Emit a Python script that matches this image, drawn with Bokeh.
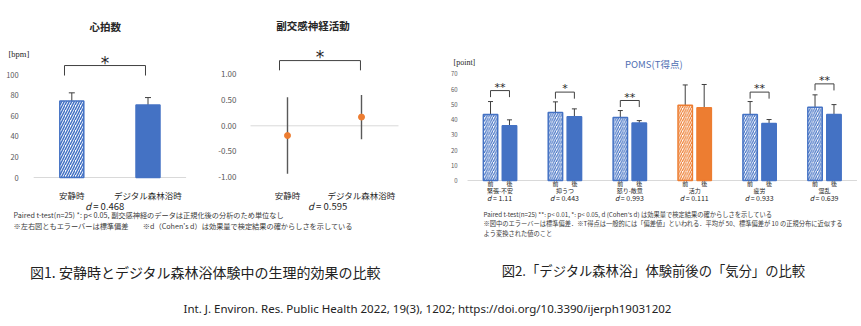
from bokeh.plotting import figure
from bokeh.models import (Range1d, FixedTicker, NumeralTickFormatter, Whisker, TeeHead,
                          ColumnDataSource, Label)
from bokeh.layouts import row, column
from bokeh.embed import file_html
from bokeh.resources import INLINE
from bokeh.core.properties import value

# ---------------- data ----------------
hr_labels = ["安静時", "デジタル森林浴時"]
hr_mean = [74.2, 70.3]
hr_sd = [8.0, 7.3]
hr_d = "0.468"
hr_ticks = [0, 20, 40, 60, 80, 100]
hr_bracket = 108.7          # bracket height (bpm)

ps_labels = ["安静時", "デジタル森林浴時"]
ps_mean = [-0.19, 0.17]
ps_sd = [0.745, 0.43]
ps_d = "0.595"
ps_ticks = [-1.0, -0.5, 0.0, 0.5, 1.0]
ps_bracket = 1.27

poms_cats = ["緊張-不安", "抑うつ", "怒り-敵意", "活力", "疲労", "混乱"]
poms_d = ["1.11", "0.443", "0.993", "0.111", "0.933", "0.639"]
poms_pre = [43.3, 44.6, 41.3, 49.4, 43.3, 48.0]
poms_pre_sd = [8.5, 7.0, 4.6, 13.3, 8.5, 8.2]
poms_post = [36.0, 41.8, 37.8, 47.7, 37.4, 43.3]
poms_post_sd = [3.8, 5.2, 1.5, 15.3, 2.6, 6.5]
poms_sig = ["**", "*", "**", "", "**", "**"]
poms_bracket = [59.0, 58.0, 52.5, None, 58.0, 63.4]
poms_ticks = [0, 10, 20, 30, 40, 50, 60, 70]
phases = ["前", "後"]

notes_left = [
    "Paired t-test(n=25) *: p< 0.05,  副交感神経のデータは正規化後の分析のため単位なし",
    "※左右図ともエラーバーは標準偏差　　※d（Cohen's d）は効果量で検定結果の確からしさを示している",
]
notes_right = [
    "Paired t-test(n=25) **: p< 0.01, *: p< 0.05, d (Cohen's d) は効果量で検定結果の確からしさを示している",
    "※図中のエラーバーは標準偏差．※T得点は一般的には「偏差値」といわれる．平均が 50、標準偏差が 10 の正規分布に近似する",
    "よう変換された値のこと",
]
caption1 = "図1. 安静時とデジタル森林浴体験中の生理的効果の比較"
caption2 = "図2.「デジタル森林浴」体験前後の「気分」の比較"
citation = "Int. J. Environ. Res. Public Health 2022, 19(3), 1202; https://doi.org/10.3390/ijerph19031202"

# ---------------- style ----------------
BLUE = "#4472C4"
ORANGE = "#ED7D31"
TICK = "#595959"
INK = "#262626"
ERR = "#3f3f3f"
AXIS = "#d9d9d9"
JP = "Noto Sans CJK JP"
NBSP = "\u00a0"
LEFT_H = 211      # height of the two left charts
RIGHT_H = 208     # height of the POMS chart
TOP_H = 238       # charts + notes


def make_fig(w, h, x0_px, x_unit_px, zero_px, px_per_unit):
    """Frame fills the whole figure; category i sits at x0_px + i*x_unit_px,
    value 0 sits at zero_px."""
    xr = Range1d(-x0_px / x_unit_px, (w - x0_px) / x_unit_px)
    yr = Range1d(-(h - zero_px) / px_per_unit, zero_px / px_per_unit)
    p = figure(width=w, height=h, x_range=xr, y_range=yr, output_backend="svg",
               toolbar_location=None, title=None, x_axis_location=None,
               min_border=0)
    p.outline_line_color = None
    p.grid.visible = False
    p.border_fill_color = "white"
    p.background_fill_color = "white"
    ax = p.yaxis[0]
    ax.fixed_location = -0.5
    ax.axis_line_color = None
    ax.major_tick_line_color = None
    ax.minor_tick_line_color = None
    ax.major_label_text_color = TICK
    ax.major_label_text_font = JP
    return p


def px(zero_px, px_per_unit):
    return lambda y: (zero_px - y) / px_per_unit


def txt(p, x, y, s, size, color=INK, font=JP, style="normal", align="center", x_offset=0):
    p.text(x=x, y=y, text=s, text_font=value(font), text_font_size=size, text_color=color,
           text_font_style=style, text_align=align, text_baseline="middle", x_offset=x_offset)


def d_label(p, xs, y, vals, size):
    """Cohen's d label: italic 'd' followed by ' = value', centred on each x."""
    fs = float(size.rstrip("px"))
    for x, v in zip(xs, vals):
        rest = f"{NBSP}={NBSP}{v}"
        w_rest = sum(0.55 if ch.isdigit() else 0.27 if ch in NBSP + "." else 0.57 for ch in rest) * fs
        w_d = 0.58 * fs
        anchor = -(w_rest + w_d) / 2 + w_d
        txt(p, [x], [y], ["d"], size, style="italic", align="right", x_offset=anchor)
        txt(p, [x], [y], [rest], size, align="left", x_offset=anchor)


# ---------------- figure 1 : heart rate ----------------
Z1, K1 = 177, 1.03
a1 = px(Z1, K1)
hr_x = list(range(len(hr_labels)))
p1 = make_fig(215, LEFT_H, 71.3, 76.2, Z1, K1)
p1.yaxis.ticker = FixedTicker(ticks=hr_ticks)
p1.yaxis.major_label_text_font_size = "7.5px"
p1.yaxis.major_label_standoff = 9
p1.segment(x0=[-0.5], x1=[len(hr_labels) - 0.5], y0=[0], y1=[0], line_color=AXIS, line_width=1)
p1.vbar(x=hr_x[:1], top=hr_mean[:1], width=0.315, fill_color="white", line_color=BLUE,
        line_width=1.5, hatch_pattern="/", hatch_color=BLUE, hatch_weight=1.5, hatch_scale=5)
p1.vbar(x=hr_x[1:], top=hr_mean[1:], width=0.315, fill_color=BLUE, line_color=BLUE,
        line_width=1.5)
hr_src = ColumnDataSource(dict(x=hr_x, lo=hr_mean,
                               hi=[m + s for m, s in zip(hr_mean, hr_sd)]))
p1.add_layout(Whisker(source=hr_src, base="x", lower="lo", upper="hi", line_color=ERR,
                      line_width=1, upper_head=TeeHead(size=6, line_color=ERR, line_width=1),
                      lower_head=None))
bl, br = hr_x[0] - 0.096, hr_x[1] - 0.033
foot1 = hr_bracket - 9.7
p1.line(x=[bl, bl, br, br], y=[foot1, hr_bracket, hr_bracket, foot1], line_color="#404040",
        line_width=1)
txt(p1, [(bl + br) / 2], [a1(62)], ["*"], "17px", font="DejaVu Sans")
txt(p1, [0.44], [a1(26)], ["心拍数"], "10.5px", style="bold")
txt(p1, hr_x, [a1(194.5)] * 2, hr_labels, "8.5px")
d_label(p1, [0.44], a1(205), [hr_d], "9.5px")
p1.add_layout(Label(x=8, x_units="screen", y=a1(53), text="[bpm]", text_font="Liberation Serif",
                    text_font_size="8.5px", text_baseline="middle", text_align="left",
                    text_color=INK))

# ---------------- figure 2 : parasympathetic ----------------
Z2, K2 = 125.3, 51.35
a2 = px(Z2, K2)
ps_x = list(range(len(ps_labels)))
p2 = make_fig(215, LEFT_H, 72, 74, Z2, K2)
p2.yaxis.ticker = FixedTicker(ticks=ps_ticks)
p2.yaxis.formatter = NumeralTickFormatter(format="0.00")
p2.yaxis.major_label_text_font_size = "8px"
p2.yaxis.major_label_standoff = 8
p2.segment(x0=[-0.5], x1=[len(ps_labels) - 0.5], y0=[0], y1=[0], line_color=AXIS, line_width=1)
p2.segment(x0=ps_x, x1=ps_x,
           y0=[m - s for m, s in zip(ps_mean, ps_sd)],
           y1=[m + s for m, s in zip(ps_mean, ps_sd)], line_color="#595959", line_width=1.4)
p2.scatter(x=ps_x, y=ps_mean, size=6, fill_color=ORANGE, line_color=ORANGE)
bl2, br2 = ps_x[0] - 0.108, ps_x[1] - 0.014
foot2 = ps_bracket - 0.19
p2.line(x=[bl2, bl2, br2, br2], y=[foot2, ps_bracket, ps_bracket, foot2], line_color="#404040",
        line_width=1)
txt(p2, [(bl2 + br2) / 2], [a2(56)], ["*"], "17px", font="DejaVu Sans")
txt(p2, [0.345], [a2(25)], ["副交感神経活動"], "10.5px", style="bold")
txt(p2, ps_x, [a2(194.5)] * 2, ps_labels, "8.5px")
d_label(p2, [0.55], a2(205), [ps_d], "9.5px")

# ---------------- figure 3 : POMS ----------------
Z3, K3 = 180, 1.524
a3 = px(Z3, K3)
DODGE, BW = 0.146, 0.222
p3 = make_fig(431, RIGHT_H, 69.5, 64.9, Z3, K3)
p3.yaxis.ticker = FixedTicker(ticks=poms_ticks)
p3.yaxis.major_label_text_font_size = "6px"
p3.yaxis.major_label_standoff = 4
p3.segment(x0=[-0.5], x1=[len(poms_cats) - 0.5], y0=[0], y1=[0], line_color=AXIS, line_width=1)

gx = list(range(len(poms_cats)))
colors = [ORANGE if c == "活力" else BLUE for c in poms_cats]
pre_x = [i - DODGE for i in gx]
post_x = [i + DODGE for i in gx]
src_pre = ColumnDataSource(dict(x=pre_x, top=poms_pre, colr=colors))
src_post = ColumnDataSource(dict(x=post_x, top=poms_post, colr=colors))
p3.vbar(x="x", top="top", width=BW, source=src_pre, fill_color="white", line_color="colr",
        line_width=1.5, hatch_pattern="/", hatch_color="colr", hatch_weight=1.2, hatch_scale=4.5)
p3.vbar(x="x", top="top", width=BW, source=src_post, fill_color="colr", line_color="colr",
        line_width=1.5)
err_src = ColumnDataSource(dict(
    x=pre_x + post_x,
    lo=poms_pre + poms_post,
    hi=[m + s for m, s in zip(poms_pre, poms_pre_sd)] + [m + s for m, s in zip(poms_post, poms_post_sd)]))
p3.add_layout(Whisker(source=err_src, base="x", lower="lo", upper="hi", line_color=ERR,
                      line_width=1, upper_head=TeeHead(size=5, line_color=ERR, line_width=1),
                      lower_head=None))
bx0, bx1, by0, by1, sx, sy, st = [], [], [], [], [], [], []
for i, sig, b in zip(gx, poms_sig, poms_bracket):
    if not sig:
        continue
    foot = b - 4.3
    bx0 += [i - DODGE, i - DODGE, i + DODGE]
    bx1 += [i + DODGE, i - DODGE, i + DODGE]
    by0 += [b, foot, foot]
    by1 += [b, b, b]
    sx.append(i)
    sy.append(b + 2.2)
    st.append(sig)
p3.segment(x0=bx0, x1=bx1, y0=by0, y1=by1, line_color="#404040", line_width=1)
txt(p3, sx, sy, st, "11px", font="DejaVu Sans")
txt(p3, pre_x + post_x, [a3(183)] * 12, [phases[0]] * 6 + [phases[1]] * 6, "6px")
txt(p3, gx, [a3(190)] * 6, poms_cats, "6px")
d_label(p3, gx, a3(197.5), poms_d, "7px")
txt(p3, [2.37], [a3(63)], ["POMS(T得点)"], "9.5px", color="#4f6fb3")
p3.add_layout(Label(x=23, x_units="screen", y=a3(61.5), text="[point]",
                    text_font="Liberation Serif", text_font_size="8px", text_baseline="middle",
                    text_align="left", text_color=INK))


# ---------------- notes panels ----------------
def text_panel(w, y_top, y_bot):
    p = figure(width=w, height=int(y_bot - y_top), x_range=Range1d(0, w),
               y_range=Range1d(y_bot, y_top), output_backend="svg", toolbar_location=None,
               min_border=0, x_axis_location=None, y_axis_location=None, title=None)
    p.outline_line_color = None
    p.grid.visible = False
    p.border_fill_color = "white"
    p.background_fill_color = "white"
    return p


nl = text_panel(430, LEFT_H, TOP_H)
for s, yy in zip(notes_left, [214, 225.5]):
    txt(nl, [13], [yy], [s], "7.2px", color="#3a3a3a", align="left")
nr = text_panel(431, RIGHT_H, TOP_H)
for s, yy in zip(notes_right, [213.5, 223, 233]):
    txt(nr, [53], [yy], [s], "6.25px", color="#3a3a3a", align="left")

pb = figure(width=861, height=326 - TOP_H, x_range=Range1d(0, 861), y_range=Range1d(326, TOP_H),
            output_backend="svg", toolbar_location=None, min_border=0,
            x_axis_location=None, y_axis_location=None, title=None)
pb.outline_line_color = None
pb.grid.visible = False
pb.border_fill_color = "white"
txt(pb, [205], [271], [caption1], "14px", color="#222222")
txt(pb, [653], [270], [caption2], "13.3px", color="#222222")
txt(pb, [427], [308], [citation], "11.5px", color="#222222", font="Noto Sans")

layout = column(row(column(row(p1, p2), nl), column(p3, nr)), pb)
open("out.html", "w").write(file_html(layout, INLINE))
